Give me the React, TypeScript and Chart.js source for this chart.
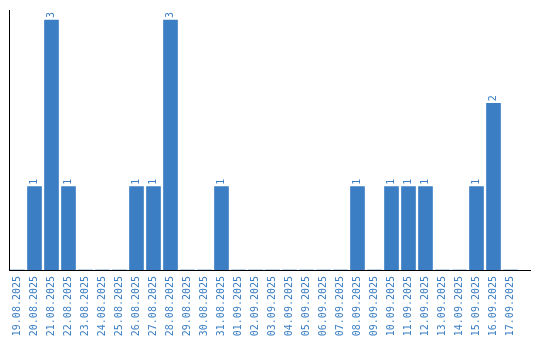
import React, { useEffect, useRef } from "react";
import { Chart, registerables } from "chart.js";

Chart.register(...registerables);

const categories: string[] = [
  "19.08.2025", "20.08.2025", "21.08.2025", "22.08.2025", "23.08.2025", "24.08.2025",
  "25.08.2025", "26.08.2025", "27.08.2025", "28.08.2025", "29.08.2025", "30.08.2025",
  "31.08.2025", "01.09.2025", "02.09.2025", "03.09.2025", "04.09.2025", "05.09.2025",
  "06.09.2025", "07.09.2025", "08.09.2025", "09.09.2025", "10.09.2025", "11.09.2025",
  "12.09.2025", "13.09.2025", "14.09.2025", "15.09.2025", "16.09.2025", "17.09.2025",
];
const counts: number[] = [
  0, 1, 3, 1, 0, 0,
  0, 1, 1, 3, 0, 0,
  1, 0, 0, 0, 0, 0,
  0, 0, 1, 0, 1, 1,
  1, 0, 0, 1, 2, 0,
];

const BLUE = "#3b7ec3";
const FONT = "'DejaVu Sans Mono', monospace";

const valueLabels = {
  id: "valueLabels",
  afterDatasetsDraw(chart: any) {
    const ctx = chart.ctx;
    const meta = chart.getDatasetMeta(0);
    ctx.save();
    ctx.fillStyle = BLUE;
    ctx.font = `10px ${FONT}`;
    ctx.textAlign = "left";
    ctx.textBaseline = "middle";
    meta.data.forEach((bar: any, i: number) => {
      const v = counts[i];
      if (!v) return;
      ctx.save();
      ctx.translate(bar.x, bar.y - 2);
      ctx.rotate(-Math.PI / 2);
      ctx.fillText(String(v), 0, 0);
      ctx.restore();
    });
    ctx.restore();
  },
  afterDraw(chart: any) {
    const { ctx, chartArea } = chart;
    ctx.save();
    ctx.strokeStyle = "#000";
    ctx.lineWidth = 1;
    ctx.beginPath();
    ctx.moveTo(chartArea.right, Math.round(chartArea.bottom) + 0.5);
    ctx.lineTo(531, Math.round(chartArea.bottom) + 0.5);
    ctx.stroke();
    ctx.restore();
  },
};

export default function App() {
  const ref = useRef<HTMLCanvasElement | null>(null);
  useEffect(() => {
    if (!ref.current) return;
    const chart = new Chart(ref.current, {
      type: "bar",
      data: {
        labels: categories,
        datasets: [
          {
            data: counts,
            backgroundColor: BLUE,
            borderWidth: 0,
            barThickness: 14,
          },
        ],
      },
      options: {
        animation: false,
        responsive: false,
        maintainAspectRatio: false,
        layout: { padding: { left: 9, top: 10, right: 21, bottom: 0 } },
        plugins: {
          legend: { display: false },
          tooltip: { enabled: false },
        },
        scales: {
          x: {
            grid: { display: false, drawTicks: false },
            border: { display: true, color: "#000", width: 1 },
            ticks: {
              color: BLUE,
              font: { family: FONT, size: 10 },
              minRotation: 90,
              maxRotation: 90,
              autoSkip: false,
              padding: 6,
            },
            afterFit(scale: any) {
              scale.height = 70;
            },
          },
          y: {
            min: 0,
            max: 3.12,
            grid: { display: false, drawTicks: false },
            border: { display: true, color: "#000", width: 1 },
            ticks: { display: false },
            afterFit(scale: any) {
              scale.width = 0;
            },
          },
        },
      },
      plugins: [valueLabels],
    });
    return () => chart.destroy();
  }, []);
  return (
    <div style={{ position: "fixed", left: 0, top: 0, width: 540, height: 340, background: "#fff" }}>
      <canvas ref={ref} width={540} height={340} style={{ width: 540, height: 340 }} />
    </div>
  );
}
